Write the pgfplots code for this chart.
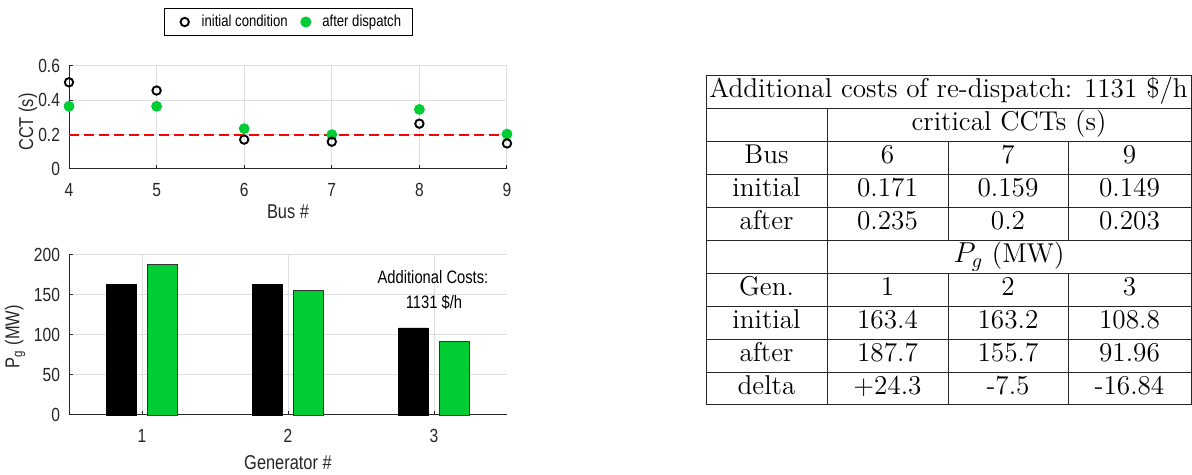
\documentclass[border=0pt]{standalone}
\usepackage{pgfplots}
\pgfplotsset{compat=1.18}
\usepackage{fontspec}
\newfontfamily\axfont[FakeStretch=0.82]{Liberation Sans}
\definecolor{mgreen}{RGB}{0,204,51}
\definecolor{mgrid}{RGB}{223,223,223}
\definecolor{maxis}{RGB}{38,38,38}
\begin{document}
\begin{tikzpicture}
\useasboundingbox (0,0) rectangle (596pt,237.5pt);
\pgfplotsset{mstyle/.style={
  scale only axis, width=219pt,
  axis x line*=bottom, axis y line*=left,
  axis line style={-, maxis, line width=0.5pt},
  grid=major, major grid style={mgrid, line width=0.5pt},
  tick align=inside, major tick length=2pt, tick style={maxis, line width=0.5pt},
  /pgf/number format/assume math mode=true,
  tick label style={font=\axfont\fontsize{9.5}{10}\selectfont, text=maxis},
  label style={font=\axfont\fontsize{10}{12}\selectfont, text=maxis},
  xticklabel style={yshift=-3.5pt},
  yticklabel style={xshift=-1pt},
  clip=false,
}}
% ---------- top: CCT ----------
\begin{axis}[mstyle, at={(34.5pt,153pt)}, anchor=south west, height=51.5pt,
  xmin=4, xmax=9, ymin=0, ymax=0.6,
  xtick={4,5,6,7,8,9}, xticklabels={4,5,6,7,8,9},
  ytick={0,0.2,0.4,0.6}, yticklabels={0,0.2,0.4,0.6},
  xlabel={Bus \#}, ylabel={CCT (s)},
  xlabel style={at={(axis description cs:0.5,-0.417)}, anchor=center},
  ylabel style={at={(axis description cs:-0.0936,0.456)}, anchor=center},
  legend columns=2, reverse legend,
  legend image code/.code={\path (-6pt,0pt) (6pt,0pt); \draw[#1] plot coordinates {(0pt,0pt)};},
  legend style={at={(0.501,1.427)}, anchor=center, draw=black, line width=0.5pt,
    fill=white, inner xsep=3.5pt, inner ysep=1pt,
    font=\axfont\fontsize{8}{9}\selectfont,
    /tikz/every even column/.append style={column sep=0.8pt}},
]
\addplot[red, line width=1pt, dash pattern=on 5pt off 2.5pt, forget plot] coordinates {(4,0.2) (9,0.2)};
\addplot[only marks, mark=*, mark size=2.5pt, color=mgreen, mark options={draw=mgreen, fill=mgreen}]
  coordinates {(4,0.365) (5,0.365) (6,0.235) (7,0.2) (8,0.347) (9,0.203)};
\addlegendentry{after dispatch}
\addplot[only marks, mark=o, mark size=2.1pt, line width=0.95pt, color=black]
  coordinates {(4,0.505) (5,0.457) (6,0.171) (7,0.159) (8,0.264) (9,0.149)};
\addlegendentry{initial condition}
\end{axis}
% ---------- bottom: Pg ----------
\begin{axis}[mstyle, at={(34.5pt,30pt)}, anchor=south west, height=80pt,
  xmin=0.5, xmax=3.5, ymin=0, ymax=200,
  xtick={1,2,3}, xticklabels={1,2,3},
  ytick={0,50,100,150,200}, yticklabels={0,50,100,150,200},
  xlabel={Generator \#}, ylabel={P\textsubscript{g} (MW)},
  xlabel style={at={(axis description cs:0.5,-0.3)}, anchor=center},
  ylabel style={at={(axis description cs:-0.123,0.49)}, anchor=center},
]
\addplot[ybar, bar width=15pt, bar shift=-10.25pt, fill=black, draw=black, line width=0.4pt]
  coordinates {(1,163.4) (2,163.2) (3,108.8)};
\addplot[ybar, bar width=15pt, bar shift=10.25pt, fill=mgreen, draw=black!80, line width=0.4pt]
  coordinates {(1,187.7) (2,155.7) (3,91.96)};
\node[font=\axfont\fontsize{9}{10}\selectfont, text=black] at (axis cs:2.993,172.5) {Additional Costs:};
\node[font=\axfont\fontsize{9}{10}\selectfont, text=black] at (axis cs:3.0,141.25) {1131 \$/h};
\end{axis}
% ---------- table ----------
\begin{scope}[line width=0.5pt, draw=black!85]
\draw (353pt,35pt) rectangle (595.5pt,199.5pt);
\foreach \y in {183,166.5,150,133.5,117,100.5,84,67.5,51} \draw (353pt,\y pt) -- (595.5pt,\y pt);
\draw (413.5pt,35pt) -- (413.5pt,183pt);
\foreach \x in {474,534} {
  \draw (\x pt,117pt) -- (\x pt,166.5pt);
  \draw (\x pt,35pt) -- (\x pt,100.5pt);
}
\end{scope}
\begin{scope}[every node/.style={anchor=base, inner sep=0pt, font=\fontsize{13.6}{15}\selectfont}]
\node at (474.25pt,188.5pt) {Additional costs of re-dispatch: 1131 \$/h};
\node at (504.5pt,172pt) {critical CCTs (s)};
\node at (383.25pt,155.5pt) {Bus};
\node at (443.75pt,155.5pt) {6};
\node at (504pt,155.5pt) {7};
\node at (564.75pt,155.5pt) {9};
\node at (383.25pt,139pt) {initial};
\node at (443.75pt,139pt) {0.171};
\node at (504pt,139pt) {0.159};
\node at (564.75pt,139pt) {0.149};
\node at (383.25pt,122.5pt) {after};
\node at (443.75pt,122.5pt) {0.235};
\node at (504pt,122.5pt) {0.2};
\node at (564.75pt,122.5pt) {0.203};
\node at (504.5pt,106pt) {$P_g$ (MW)};
\node at (383.25pt,89.5pt) {Gen.};
\node at (443.75pt,89.5pt) {1};
\node at (504pt,89.5pt) {2};
\node at (564.75pt,89.5pt) {3};
\node at (383.25pt,73pt) {initial};
\node at (443.75pt,73pt) {163.4};
\node at (504pt,73pt) {163.2};
\node at (564.75pt,73pt) {108.8};
\node at (383.25pt,56.5pt) {after};
\node at (443.75pt,56.5pt) {187.7};
\node at (504pt,56.5pt) {155.7};
\node at (564.75pt,56.5pt) {91.96};
\node at (383.25pt,40pt) {delta};
\node at (443.75pt,40pt) {+24.3};
\node at (504pt,40pt) {-7.5};
\node at (564.75pt,40pt) {-16.84};
\end{scope}
\end{tikzpicture}
\end{document}
